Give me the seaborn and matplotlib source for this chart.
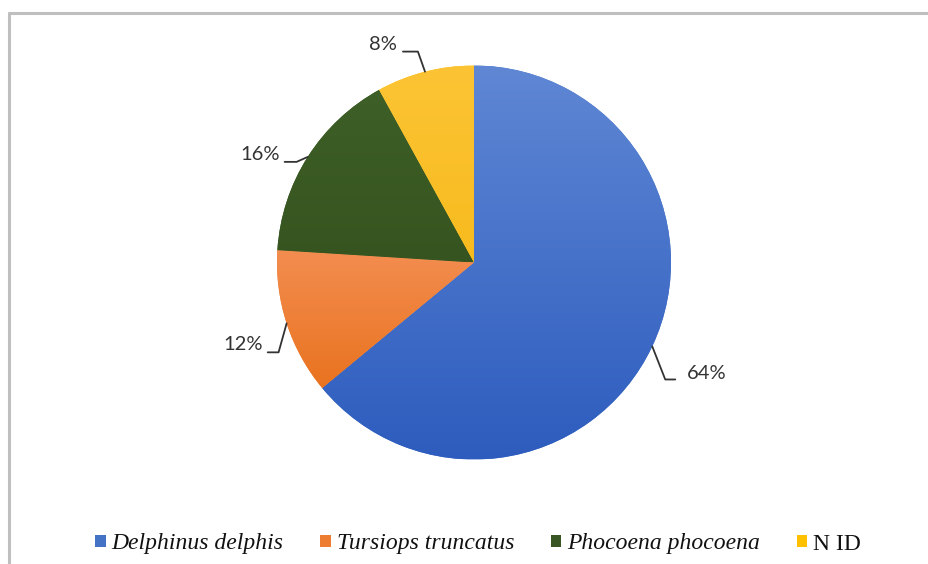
import numpy as np
import matplotlib
matplotlib.use("Agg")
import matplotlib.pyplot as plt
from matplotlib.lines import Line2D
from matplotlib.patches import Patch
from matplotlib.colors import LinearSegmentedColormap
import seaborn as sns

# Species share of records
species = ["Delphinus delphis", "Tursiops truncatus", "Phocoena phocoena", "N ID"]
shares = [64, 12, 16, 8]
italic_names = [True, True, True, False]

# Slice fills: (lighter top, darker bottom) shading per slice
base_colors = ["#4472C4", "#ED7D31", "#375623", "#FFC000"]
shade_top = ["#5F87D4", "#F38D50", "#3E5F28", "#FCC435"]
shade_bottom = ["#2D5CBE", "#E9731F", "#36541F", "#F8BB1E"]

# Leader-line geometry, offsets from the wedge edge (pie radius units)
elbow_off = [(0.066, -0.168), (-0.041, -0.147), (-0.056, -0.025), (-0.036, 0.102)]
end_dx = [0.117, -0.096, -0.117, -0.112]
text_off = [(0.178, -0.137), (-0.122, -0.107), (-0.142, 0.010), (-0.142, 0.137)]

sns.set_theme(style="white")
plt.rcParams["font.family"] = ["Lato", "DejaVu Sans"]

W, H = 929, 564
fig = plt.figure(figsize=(W / 100, H / 100), dpi=100)
fig.patch.set_facecolor("white")

cx, cy, R = 474, 262.5, 197
ax = fig.add_axes([(cx - R) / W, (H - cy - R) / H, 2 * R / W, 2 * R / H])

palette = sns.color_palette(base_colors)
wedges, _ = ax.pie(shares, colors=palette, startangle=90, counterclock=False,
                   radius=1.0, wedgeprops=dict(linewidth=0))
ax.axis("off")

# vertical shading inside each slice
for w, ct, cb in zip(wedges, shade_top, shade_bottom):
    cmap = LinearSegmentedColormap.from_list("s", [cb, ct])
    grad = np.linspace(0, 1, 256).reshape(-1, 1)
    path = w.get_path().transformed(w.get_patch_transform())
    ys = path.vertices[:, 1]
    y0, y1 = ys.min(), ys.max()
    im = ax.imshow(grad, cmap=cmap, origin="lower", aspect="auto",
                   extent=(-1, 1, y0, y1), zorder=w.get_zorder() + 0.1)
    im.set_clip_path(w)
ax.set_xlim(-1, 1)
ax.set_ylim(-1, 1)

# percentage labels with elbow leaders
ink = "#333333"
for w, v, eo, ex, to in zip(wedges, shares, elbow_off, end_dx, text_off):
    mid = np.deg2rad((w.theta1 + w.theta2) / 2)
    px, py = np.cos(mid), np.sin(mid)
    ex0, ey0 = px + eo[0], py + eo[1]
    ax.add_line(Line2D([px, ex0, px + ex], [py, ey0, ey0], color=ink,
                       lw=1.3, clip_on=False, zorder=5))
    ha = "left" if to[0] > 0 else "right"
    ax.text(px + to[0], py + to[1], f"{v}%", ha=ha, va="center",
            fontsize=14.5, color=ink, clip_on=False)

# legend along the bottom
handles = [Patch(facecolor=c, edgecolor="none") for c in base_colors]
leg = fig.legend(handles, species, loc="center", bbox_to_anchor=(478 / W, 1 - 544 / H),
                 ncol=4, frameon=False, handlelength=0.45, handleheight=0.45,
                 handletextpad=0.25, columnspacing=1.55,
                 prop=dict(family="Liberation Serif", size=17))
for t, it in zip(leg.get_texts(), italic_names):
    t.set_fontstyle("italic" if it else "normal")
    t.set_color("#111111")

# outer frame (top and left edges)
frame_c = "#BFBFBF"
fig.add_artist(Line2D([9.5 / W, 9.5 / W], [0, 1 - 12.5 / H], color=frame_c, lw=2.2,
                      transform=fig.transFigure))
fig.add_artist(Line2D([9.5 / W, 1], [1 - 12.5 / H, 1 - 12.5 / H], color=frame_c, lw=2.2,
                      transform=fig.transFigure))

fig.savefig("out.png", dpi=100, facecolor="white")
